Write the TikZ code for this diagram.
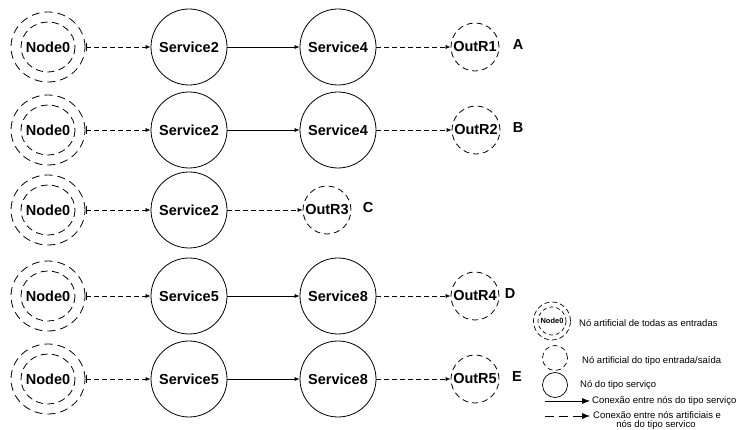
\documentclass[tikz,border=0pt]{standalone}
\usepackage{fontspec}
\setmainfont{Liberation Sans}
\usetikzlibrary{arrows.meta,shapes.geometric}
\begin{document}
\begin{tikzpicture}[x=1pt,y=-1pt,
  lbl/.style={font=\bfseries\fontsize{14.5}{16}\selectfont, inner sep=0pt},
  svc/.style={draw, circle, minimum size=76pt, inner sep=0pt, font=\bfseries\fontsize{14.5}{16}\selectfont, line width=0.8pt},
  outr/.style={draw, circle, minimum size=48pt, inner sep=0pt, dash pattern=on 6pt off 4pt, font=\bfseries\fontsize{14.5}{16}\selectfont, line width=0.8pt},
  startnode/.style={draw, ellipse, minimum width=74pt, minimum height=70pt, inner sep=0pt, dash pattern=on 8pt off 5pt, line width=0.8pt, font=\bfseries\fontsize{14.5}{16}\selectfont},
  innerring/.style={draw, dash pattern=on 7pt off 4.5pt, line width=0.8pt},
  solidarrow/.style={-{Latex[length=5pt,width=4pt]}, line width=0.6pt},
  dasharrow/.style={-{Latex[length=5pt,width=4pt]}, dash pattern=on 5pt off 3pt, line width=0.6pt},
  tailarrow/.style={{Bar[width=8pt]}-{Latex[length=5pt,width=4pt]}, dash pattern=on 5pt off 3pt, line width=0.6pt},
  legtext/.style={anchor=west, inner sep=0pt, font=\fontsize{9.5}{11}\selectfont}
]
\useasboundingbox (0,0) rectangle (737,430);

% Rows
\foreach \row/\y/\sa/\sb/\outx/\outname/\letter/\letx in {
  a/47/Service2/Service4/475/OutR1/A/518,
  b/130/Service2/Service4/476/OutR2/B/518,
  d/296/Service5/Service8/475/OutR4/D/510,
  e/379/Service5/Service8/475/OutR5/E/517} {
  \node[startnode] (n0\row) at (48,\y) {Node0};
  \draw[innerring] (48,\y) ellipse [x radius=27, y radius=25];
  \coordinate (t\row) at (86,\y);
  \node[svc] (s1\row) at (189,\y) {\sa};
  \node[svc] (s2\row) at (338,\y) {\sb};
  \node[outr] (o\row) at (\outx,\y) {\outname};
  \node[lbl] (l\row) at (\letx,\y-2) {\letter};
  \draw[tailarrow] (t\row) -- (s1\row);
  \draw[solidarrow] (s1\row) -- (s2\row);
  \draw[dasharrow] (s2\row) -- (o\row);
}

% Row C
\node[startnode] (n0c) at (48,210) {Node0};
\draw[innerring] (48,210) ellipse [x radius=27, y radius=25];
\coordinate (tc) at (86,210);
\node[svc] (s1c) at (189,210) {Service2};
\node[outr] (oc) at (327,210) {OutR3};
\node[lbl] (lc) at (368,208) {C};
\draw[tailarrow] (tc) -- (s1c);
\draw[dasharrow] (s1c) -- (oc);

% Legend
\node[draw, ellipse, minimum width=37pt, minimum height=38pt, inner sep=0pt, dash pattern=on 5pt off 3pt, line width=0.7pt, font=\bfseries\fontsize{7.5}{9}\selectfont] (lg1) at (552,321) {Node0};
\draw[dash pattern=on 4pt off 3pt, line width=0.7pt] (552,321) ellipse [x radius=14, y radius=14];
\node[legtext] (lt1) at (579,323) {Nó artificial de todas as entradas};
\node[draw, circle, minimum size=25pt, inner sep=0pt, dash pattern=on 5pt off 3.5pt, line width=0.7pt] (lg2) at (555,358) {};
\node[legtext] (lt2) at (582,361) {Nó artificial do tipo entrada/saída};
\node[draw, circle, minimum size=25pt, inner sep=0pt, line width=0.7pt] (lg3) at (555,385) {};
\node[legtext] (lt3) at (580,385) {Nó do tipo serviço};
\coordinate (la1) at (545,401);
\coordinate (lb1) at (590,401);
\draw[-{Latex[length=8pt,width=6pt]}, line width=0.6pt] (la1) -- (lb1);
\node[legtext] (lt4) at (592,401) {Conexão entre nós do tipo serviço};
\coordinate (la2) at (545,416);
\coordinate (lb2) at (590,416);
\draw[-{Latex[length=8pt,width=6pt]}, dash pattern=on 9pt off 5pt, line width=0.6pt] (la2) -- (lb2);
\node[legtext] (lt5) at (593,415) {Conexão entre nós artificiais e};
\node[inner sep=0pt, font=\fontsize{9.5}{11}\selectfont] (lt6) at (656,425) {nós do tipo servico};
\end{tikzpicture}
\end{document}
